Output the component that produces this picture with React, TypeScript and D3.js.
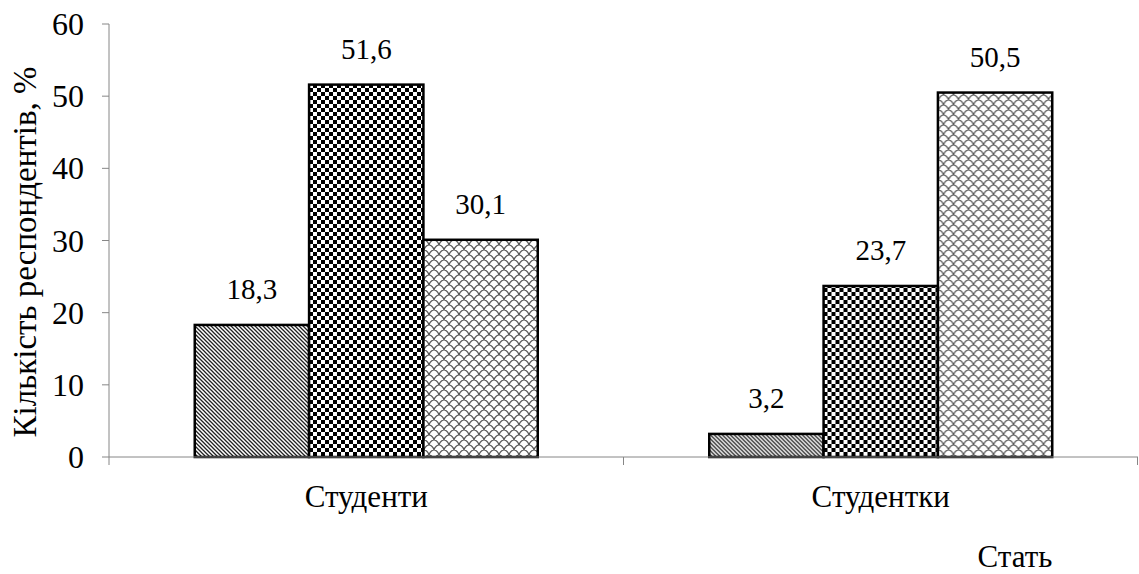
import React from "react";
import * as d3 from "d3";

const categories = ["Студенти", "Студентки"];
const seriesKeys = ["s1", "s2", "s3"];
const values: number[][] = [
  [18.3, 51.6, 30.1],
  [3.2, 23.7, 50.5],
];
const yTicks = [0, 10, 20, 30, 40, 50, 60];
const yTitle = "Кількість респондентів, %";
const xTitle = "Стать";
const patterns = ["pDiag", "pCheck", "pScale"];

const W = 1139;
const H = 574;
const margin = { left: 109, right: 1, top: 24, bottom: 117 };
const FONT = `"Times New Roman", "Liberation Serif", Tinos, serif`;
const CSS = `svg text { font-family: "Times New Roman", "Liberation Serif", Tinos, serif !important; }`;

export default function App() {
  const x0 = d3
    .scaleBand<string>()
    .domain(categories)
    .range([margin.left, W - margin.right])
    .paddingInner(0)
    .paddingOuter(0);
  const groupPad = 0.75 / 4.5;
  const x1 = d3
    .scaleBand<string>()
    .domain(seriesKeys)
    .range([x0.bandwidth() * groupPad, x0.bandwidth() * (1 - groupPad)])
    .padding(0);
  const y = d3.scaleLinear().domain([0, 60]).range([H - margin.bottom, margin.top]);
  const axisColor = "#868686";
  const baseY = y(0);

  return (
    <svg
      width={W}
      height={H}
      fontFamily={FONT}
      style={{ position: "absolute", left: 0, top: 0, background: "#fff" }}
    >
      <style>{CSS}</style>
      <defs>
        <pattern id="pDiag" width={4} height={4} patternUnits="userSpaceOnUse">
          <rect width={4} height={4} fill="#fff" />
          <path d="M-1,-1 L5,5 M-1,3 L1,5 M3,-1 L5,1" stroke="#222" strokeWidth={1.3} />
        </pattern>
        <pattern id="pCheck" width={8} height={8} patternUnits="userSpaceOnUse">
          <rect width={8} height={8} fill="#fff" />
          <rect width={4} height={4} fill="#000" />
          <rect x={4} y={4} width={4} height={4} fill="#000" />
        </pattern>
        <pattern id="pScale" width={10} height={10} patternUnits="userSpaceOnUse">
          <rect width={10} height={10} fill="#fff" />
          <path
            d="M0,5 C1,1 4,0 5,0 C6,0 9,1 10,5 M-5,10 C-4,6 -1,5 0,5 C1,5 4,6 5,10 C6,6 9,5 10,5 C11,5 14,6 15,10"
            fill="none"
            stroke="#555"
            strokeWidth={1.2}
          />
        </pattern>
      </defs>

      {/* y axis */}
      <line x1={margin.left} x2={margin.left} y1={y(60)} y2={baseY} stroke={axisColor} strokeWidth={1} />
      {yTicks.map((t) => (
        <g key={t}>
          <line x1={margin.left - 7} x2={margin.left} y1={y(t)} y2={y(t)} stroke={axisColor} />
          <text x={84} y={y(t) + 11} textAnchor="end" fontFamily={FONT} fontSize={32}>
            {t}
          </text>
        </g>
      ))}

      {/* bars */}
      {categories.map((c, ci) => (
        <g key={c} transform={`translate(${x0(c)},0)`}>
          {seriesKeys.map((k, si) => {
            const v = values[ci][si];
            const bx = x1(k)!;
            return (
              <g key={k}>
                <rect
                  x={bx}
                  y={y(v)}
                  width={x1.bandwidth()}
                  height={baseY - y(v)}
                  fill={`url(#${patterns[si]})`}
                  stroke="#000"
                  strokeWidth={2.5}
                />
                <text
                  x={bx + x1.bandwidth() / 2}
                  y={y(v) - 26}
                  textAnchor="middle"
                  fontFamily={FONT}
                  fontSize={29}
                >
                  {String(v).replace(".", ",")}
                </text>
              </g>
            );
          })}
        </g>
      ))}

      {/* x axis */}
      <line x1={margin.left} x2={W - margin.right} y1={baseY} y2={baseY} stroke={axisColor} />
      {[...categories.map((c) => x0(c)!), W - margin.right - 0.5].map((xv, i) => (
        <line key={i} x1={xv} x2={xv} y1={baseY} y2={baseY + 8} stroke={axisColor} />
      ))}
      {categories.map((c) => (
        <text
          key={c}
          x={x0(c)! + x0.bandwidth() / 2}
          y={507}
          textAnchor="middle"
          fontFamily={FONT}
          fontSize={31}
        >
          {c}
        </text>
      ))}
      <text x={1015} y={567} textAnchor="middle" fontFamily={FONT} fontSize={31}>
        {xTitle}
      </text>
      <text
        transform={`translate(36,252) rotate(-90)`}
        textAnchor="middle"
        fontFamily={FONT}
        fontSize={33}
      >
        {yTitle}
      </text>
    </svg>
  );
}
